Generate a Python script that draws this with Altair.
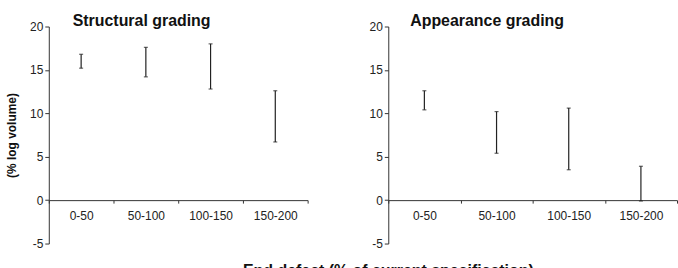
import altair as alt
import pandas as pd

categories = ["0-50", "50-100", "100-150", "150-200"]
struct_low = [15.2, 14.2, 12.8, 6.7]
struct_high = [16.8, 17.6, 18.0, 12.6]
appear_low = [10.4, 5.4, 3.5, -0.1]
appear_high = [12.6, 10.2, 10.6, 3.9]
y_ticks = [-5, 0, 5, 10, 15, 20]

FONT = "Liberation Sans"


def panel(low, high, title, width, dx, ytitle):
    df = pd.DataFrame({"cat": categories, "low": low, "high": high})
    base = alt.Chart(df)
    x = alt.X(
        "cat:N",
        sort=categories,
        scale=alt.Scale(paddingInner=0, paddingOuter=0),
        axis=alt.Axis(
            title=None,
            orient="bottom",
            offset=-43.6,
            tickBand="extent",
            labelAngle=0,
            labelPadding=7,
            tickSize=3,
            domainColor="#333",
            tickColor="#333",
        ),
    )
    y_axis = alt.Axis(
        values=y_ticks,
        grid=False,
        tickSize=4,
        labelPadding=2,
        labelExpr="'' + datum.value",
        domainColor="#333",
        tickColor="#333",
        title=ytitle if ytitle else None,
        titleFontSize=12,
        titleFontWeight="bold",
        titleFont=FONT,
        titleColor="#111",
        titlePadding=11,
    )
    y = alt.Y("low:Q", scale=alt.Scale(domain=[-5, 20], nice=False, zero=False), axis=y_axis)
    rule = base.mark_rule(color="#222", strokeWidth=1.2).encode(x=x, y=y, y2="high:Q")
    cap_lo = base.mark_tick(color="#222", size=4, thickness=1.2).encode(x=x, y=alt.Y("low:Q"))
    cap_hi = base.mark_tick(color="#222", size=4, thickness=1.2).encode(x=x, y=alt.Y("high:Q"))
    return alt.layer(rule, cap_lo, cap_hi).properties(
        width=width,
        height=218,
        title=alt.TitleParams(
            title,
            anchor="start",
            frame="group",
            dx=dx,
            fontSize=16,
            fontWeight="bold",
            font=FONT,
            color="#111",
            offset=-8,
        ),
    )


left = panel(struct_low, struct_high, "Structural grading", 260, 24, "(% log volume)")
right = panel(appear_low, appear_high, "Appearance grading", 290, 22, None)

chart = (
    alt.hconcat(left, right, spacing=60)
    .properties(
        padding={"left": 5, "top": 12, "right": 0, "bottom": 0},
        title=alt.TitleParams(
            "End defect (% of current specification)",
            orient="bottom",
            anchor="middle",
            dx=47,
            offset=14,
            fontSize=16,
            fontWeight="bold",
            font=FONT,
            color="#111",
        ),
    )
    .configure_view(stroke=None)
    .configure_axis(labelFont=FONT, labelFontSize=12, labelColor="#222")
)

chart.save("out.html", embed_options={"renderer": "svg", "actions": False})
